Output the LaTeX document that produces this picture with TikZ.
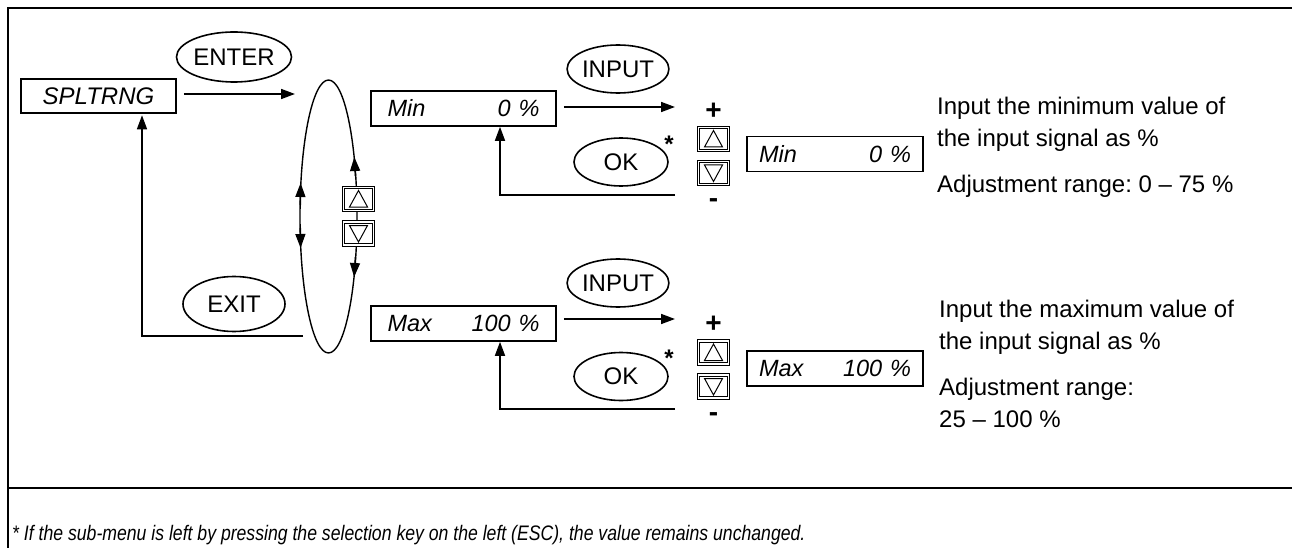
\documentclass[tikz,border=0pt]{standalone}
\usepackage{fontspec}
\setmainfont{Liberation Sans}
\newfontfamily\narrowfont[FakeStretch=0.84]{Liberation Sans}
\usetikzlibrary{arrows.meta,shapes.geometric,calc}
\frenchspacing
\begin{document}
\begin{tikzpicture}[x=1pt,y=-1pt,
  every node/.style={font=\fontsize{24}{30}\selectfont},
  lw/.style={line width=1.6pt},
  disp/.style={draw,lw,rectangle,inner xsep=12pt,inner ysep=0pt,text width=152pt,align=left,minimum height=35pt,font=\fontsize{23.5}{28}\selectfont\itshape},
  btn/.style={draw,line width=1.6pt,ellipse,minimum width=98pt,minimum height=48pt,inner sep=0pt},
  arr/.style={lw,-{Triangle[length=14pt,width=10pt]}},
  keyframe/.style={draw,fill=white,line width=1.1pt,double=white,double distance=1.5pt,minimum width=30pt,minimum height=23pt,inner sep=0pt},
  keyup/.style={keyframe,path picture={\draw[line width=1pt]
     ([xshift=-9pt,yshift=-8pt]path picture bounding box.center) --
     ([xshift=9pt,yshift=-8pt]path picture bounding box.center) --
     ([yshift=8.5pt]path picture bounding box.center) -- cycle;}},
  keydown/.style={keyframe,path picture={\draw[line width=1pt]
     ([xshift=-9pt,yshift=8pt]path picture bounding box.center) --
     ([xshift=9pt,yshift=8pt]path picture bounding box.center) --
     ([yshift=-8.5pt]path picture bounding box.center) -- cycle;}},
  desc/.style={anchor=base west,inner sep=0pt,font=\fontsize{24}{30}\selectfont},
  sign/.style={inner sep=0pt,font=\fontsize{28}{30}\selectfont\bfseries},
  star/.style={inner sep=0pt,font=\fontsize{24}{24}\selectfont\bfseries}
]
\useasboundingbox (0,0) rectangle (1292,548);
% frame
\draw[line width=1.8pt] (8,548) -- (8,8) -- (1292,8);
\draw[line width=1.8pt] (8,488) -- (1292,488);

% main menu item
\node[draw,lw,rectangle,minimum width=155pt,minimum height=34pt,inner sep=0pt,font=\fontsize{24}{30}\selectfont\itshape] (spl) at (98.5,96) {SPLTRNG};
\node[btn,minimum width=102pt,minimum height=50pt] (enter) at (234,57) {ENTER};
\node[btn,minimum width=102pt,minimum height=55pt] (exit) at (234,304) {EXIT};

% selection loop
\draw[line width=1.4pt] (328.5,216.5) ellipse [x radius=28.5, y radius=136.5];
\coordinate (lu0) at (300.3,205);
\coordinate (lu1) at (300.6,183);
\coordinate (ld0) at (300.3,228);
\coordinate (ld1) at (300.6,248);
\coordinate (ru0) at (355.4,176);
\coordinate (ru1) at (354.3,157);
\coordinate (rd0) at (355.4,257);
\coordinate (rd1) at (354.1,277);
\draw[arr,line width=1.4pt] (lu0) -- (lu1);
\draw[arr,line width=1.4pt] (ld0) -- (ld1);
\draw[arr,line width=1.4pt] (ru0) -- (ru1);
\draw[arr,line width=1.4pt] (rd0) -- (rd1);
\node[keyup] (ku0) at (358.5,199) {};
\node[keydown] (kd0) at (358.5,233.5) {};

\coordinate (loopin) at (295,94);
\coordinate (loopout) at (303,336);
\draw[arr] ([xshift=7pt]spl.east |- loopin) -- (loopin);
\draw[arr,shorten >=1.5pt] (loopout) -| ($(spl.south)+(43.5,0)$);

% Min branch
\node[disp,minimum width=185pt] (min1) at (463.5,108.5) {Min\hfill 0 \%};
\node[btn,minimum width=94pt,minimum height=48pt] (input1) at (618,69) {INPUT};
\node[btn,minimum width=94pt,minimum height=48pt] (ok1) at (621,162) {OK};
\node[star] (st1) at (669,144) {*};
\coordinate (in1) at (675,107);
\coordinate (ret1) at (675,195);
\draw[arr] ([xshift=7pt]min1.east |- in1) -- (in1);
\draw[arr] (ret1) -| ($(min1.south)+(36.5,0)$);
\node[sign] (plus1) at (713.5,111) {+};
\node[keyup] (ku1) at (713.5,139) {};
\node[keydown] (kd1) at (713.5,173) {};
\node[sign] (minus1) at (713.5,203) {-};
\node[disp,text width=152pt,minimum width=176pt,inner xsep=12pt] (min2) at (835,154) {Min\hfill 0 \%};
\node[desc] (t1) at (937,115) {Input the minimum value of};
\node[desc] (t2) at (937,147) {the input signal as \%};
\node[desc] (t3) at (937,193) {Adjustment range: 0 – 75 \%};

% Max branch
\node[disp,minimum width=185pt] (max1) at (463.5,323.5) {Max\hfill 100 \%};
\node[btn,minimum width=94pt,minimum height=48pt] (input2) at (618,283) {INPUT};
\node[btn,minimum width=94pt,minimum height=48pt] (ok2) at (621,376.5) {OK};
\node[star] (st2) at (669,358) {*};
\coordinate (in2) at (675,319);
\coordinate (ret2) at (675,409);
\draw[arr] ([xshift=7pt]max1.east |- in2) -- (in2);
\draw[arr] (ret2) -| ($(max1.south)+(36.5,0)$);
\node[sign] (plus2) at (713.5,324) {+};
\node[keyup] (ku2) at (713.5,352.5) {};
\node[keydown] (kd2) at (713.5,386.5) {};
\node[sign] (minus2) at (713.5,417) {-};
\node[disp,text width=152pt,minimum width=176pt,inner xsep=12pt] (max2) at (835,368.5) {Max\hfill 100 \%};
\node[desc] (t4) at (939,317) {Input the maximum value of};
\node[desc] (t5) at (939,349) {the input signal as \%};
\node[desc] (t6) at (939,395) {Adjustment range:};
\node[desc] (t7) at (939,427) {25 – 100 \%};

% footnote
\node[anchor=base west,inner sep=0pt,font=\narrowfont\fontsize{21}{24}\selectfont\itshape] (foot) at (12,540) {* If the sub-menu is left by pressing the selection key on the left (ESC), the value remains unchanged.};
\end{tikzpicture}
\end{document}
